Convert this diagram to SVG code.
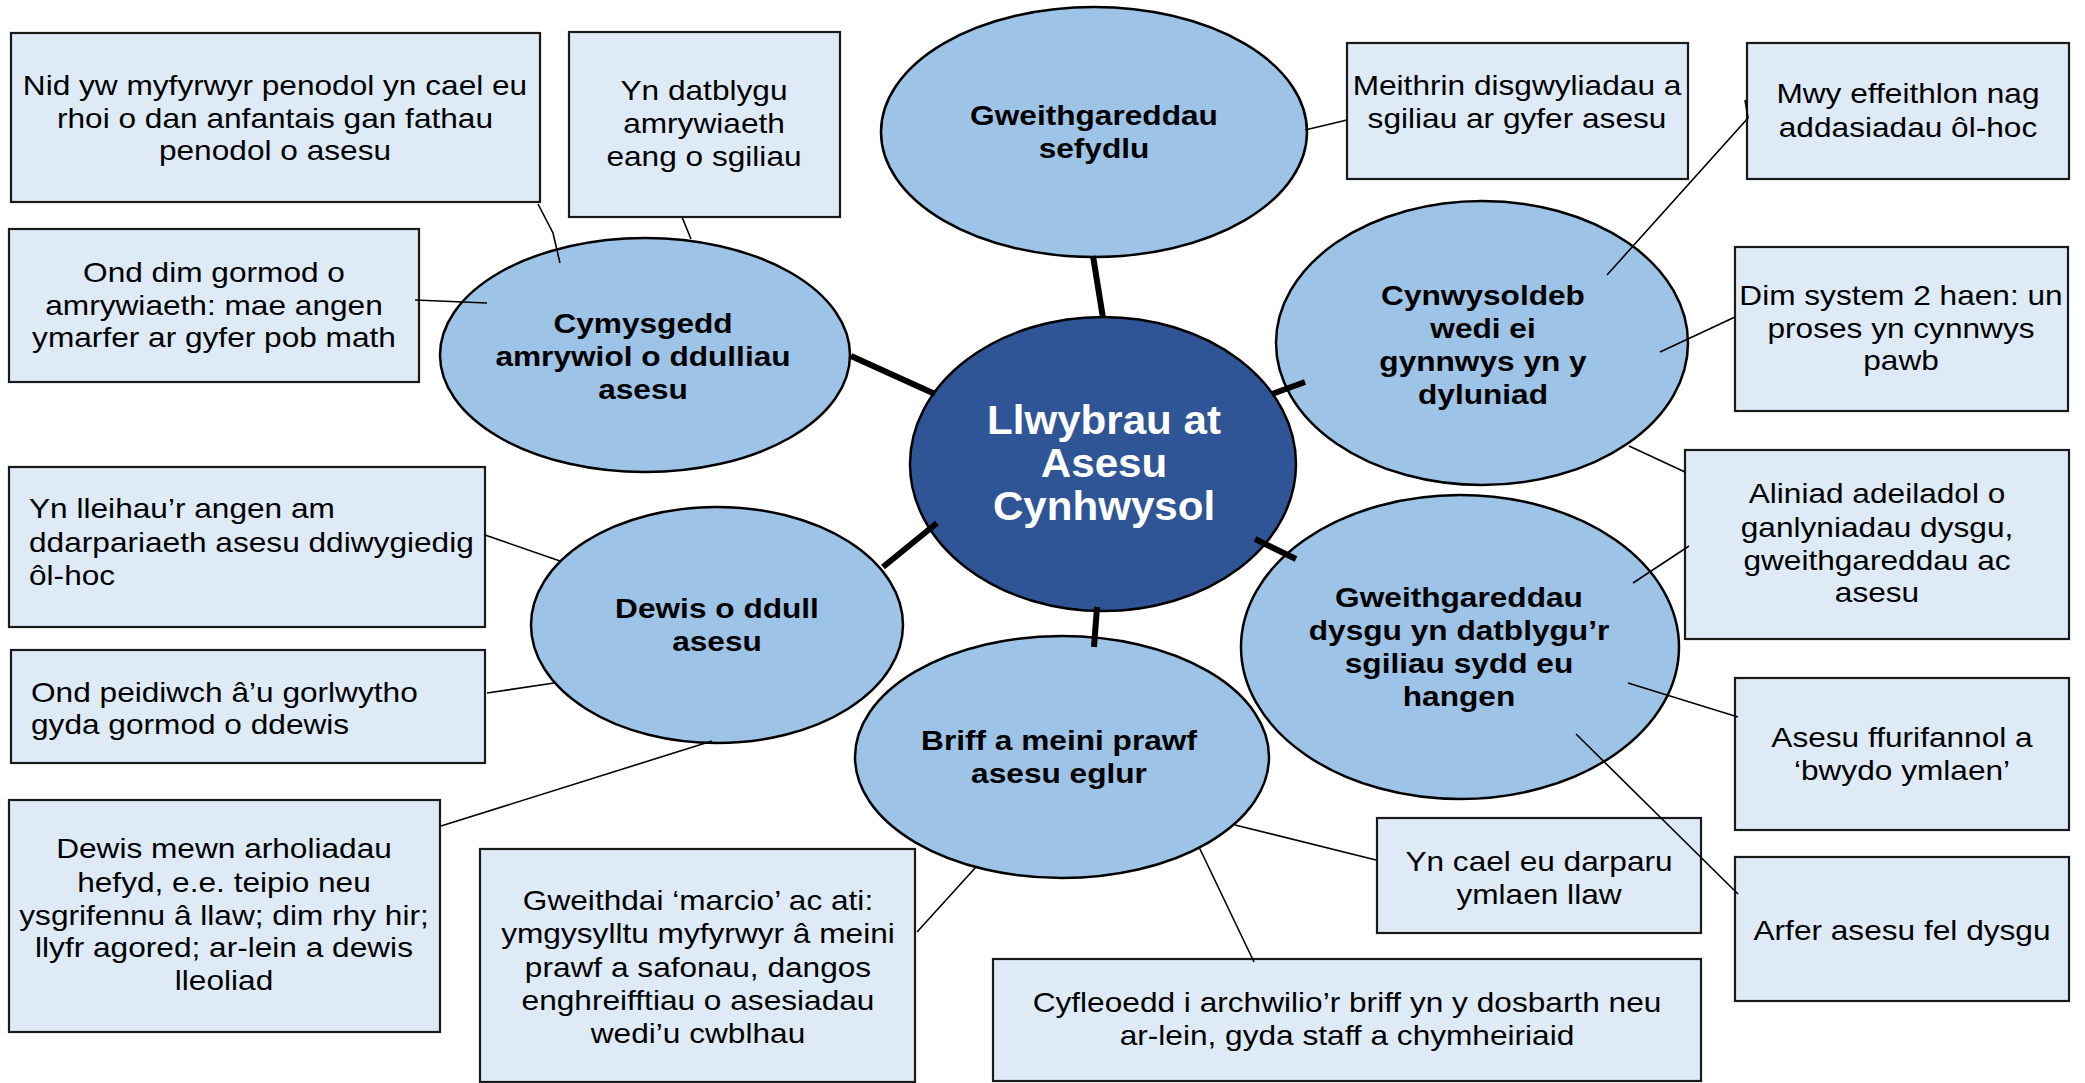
<svg xmlns="http://www.w3.org/2000/svg" width="2085" height="1083" viewBox="0 0 2085 1083">
<style>
.box{fill:#deebf7;stroke:#1a1a1a;stroke-width:2.2}
.ell{fill:#9dc3e6;stroke:#000;stroke-width:2.5}
.core{fill:#2f5597;stroke:#000;stroke-width:2.5}
.thick{stroke:#000;stroke-width:6;fill:none}
.thin{stroke:#000;stroke-width:1.6;fill:none}
.t{font-family:"Liberation Sans",Arial,sans-serif;font-size:28px;fill:#000;text-anchor:middle}
.tl{font-family:"Liberation Sans",Arial,sans-serif;font-size:28px;fill:#000;text-anchor:start}
.b{font-family:"Liberation Sans",Arial,sans-serif;font-size:28px;font-weight:bold;fill:#000;text-anchor:middle}
.c{font-family:"Liberation Sans",Arial,sans-serif;font-size:40.5px;font-weight:bold;fill:#fff;text-anchor:middle}
</style>
<rect width="2085" height="1083" fill="#fff"/>
<g id="n-cymysgedd">
<ellipse class="ell" cx="645" cy="355" rx="205" ry="117"/>
<text class="b" transform="translate(643 0) scale(1.13 1)"><tspan x="0" y="333">Cymysgedd</tspan><tspan x="0" y="366">amrywiol o ddulliau</tspan><tspan x="0" y="399">asesu</tspan></text>
</g>
<g id="n-sefydlu">
<ellipse class="ell" cx="1094" cy="132" rx="213" ry="125"/>
<text class="b" transform="translate(1094 0) scale(1.13 1)"><tspan x="0" y="125">Gweithgareddau</tspan><tspan x="0" y="158">sefydlu</tspan></text>
</g>
<g id="n-cynwysoldeb">
<ellipse class="ell" cx="1482" cy="343" rx="206" ry="142"/>
<text class="b" transform="translate(1483 0) scale(1.13 1)"><tspan x="0" y="305">Cynwysoldeb</tspan><tspan x="0" y="338">wedi ei</tspan><tspan x="0" y="371">gynnwys yn y</tspan><tspan x="0" y="404">dyluniad</tspan></text>
</g>
<g id="n-dewis">
<ellipse class="ell" cx="717" cy="625" rx="186" ry="118"/>
<text class="b" transform="translate(717 0) scale(1.13 1)"><tspan x="0" y="618">Dewis o ddull</tspan><tspan x="0" y="651">asesu</tspan></text>
</g>
<g id="n-briff">
<ellipse class="ell" cx="1062" cy="757" rx="207" ry="121"/>
<text class="b" transform="translate(1059 0) scale(1.13 1)"><tspan x="0" y="750">Briff a meini prawf</tspan><tspan x="0" y="783">asesu eglur</tspan></text>
</g>
<g id="n-dysgu">
<ellipse class="ell" cx="1460" cy="647" rx="219" ry="152"/>
<text class="b" transform="translate(1459 0) scale(1.13 1)"><tspan x="0" y="607">Gweithgareddau</tspan><tspan x="0" y="640">dysgu yn datblygu’r</tspan><tspan x="0" y="673">sgiliau sydd eu</tspan><tspan x="0" y="706">hangen</tspan></text>
</g>
<g id="n-centre">
<ellipse class="core" cx="1103" cy="464" rx="193" ry="147"/>
<text class="c" transform="translate(1104 0) scale(1.04 1)"><tspan x="0" y="434">Llwybrau at</tspan><tspan x="0" y="477">Asesu</tspan><tspan x="0" y="520">Cynhwysol</tspan></text>
</g>
<g id="b-nid">
<rect class="box" x="11" y="33" width="529" height="169"/>
<text class="t" transform="translate(275 0) scale(1.13 1)"><tspan x="0" y="95">Nid yw myfyrwyr penodol yn cael eu</tspan><tspan x="0" y="128">rhoi o dan anfantais gan fathau</tspan><tspan x="0" y="160">penodol o asesu</tspan></text>
</g>
<g id="b-datblygu">
<rect class="box" x="569" y="32" width="271" height="185"/>
<text class="t" transform="translate(704 0) scale(1.13 1)"><tspan x="0" y="100">Yn datblygu</tspan><tspan x="0" y="133">amrywiaeth</tspan><tspan x="0" y="166">eang o sgiliau</tspan></text>
</g>
<g id="b-ond-dim">
<rect class="box" x="9" y="229" width="410" height="153"/>
<text class="t" transform="translate(214 0) scale(1.13 1)"><tspan x="0" y="282">Ond dim gormod o</tspan><tspan x="0" y="315">amrywiaeth: mae angen</tspan><tspan x="0" y="347">ymarfer ar gyfer pob math</tspan></text>
</g>
<g id="b-meithrin">
<rect class="box" x="1347" y="43" width="341" height="136"/>
<text class="t" transform="translate(1517 0) scale(1.13 1)"><tspan x="0" y="95">Meithrin disgwyliadau a</tspan><tspan x="0" y="128">sgiliau ar gyfer asesu</tspan></text>
</g>
<g id="b-mwy">
<rect class="box" x="1747" y="43" width="322" height="136"/>
<text class="t" transform="translate(1908 0) scale(1.13 1)"><tspan x="0" y="103">Mwy effeithlon nag</tspan><tspan x="0" y="137">addasiadau ôl-hoc</tspan></text>
</g>
<g id="b-dim-system">
<rect class="box" x="1735" y="247" width="333" height="164"/>
<text class="t" transform="translate(1901 0) scale(1.13 1)"><tspan x="0" y="305">Dim system 2 haen: un</tspan><tspan x="0" y="338">proses yn cynnwys</tspan><tspan x="0" y="370">pawb</tspan></text>
</g>
<g id="b-aliniad">
<rect class="box" x="1685" y="450" width="384" height="189"/>
<text class="t" transform="translate(1877 0) scale(1.13 1)"><tspan x="0" y="503">Aliniad adeiladol o</tspan><tspan x="0" y="537">ganlyniadau dysgu,</tspan><tspan x="0" y="570">gweithgareddau ac</tspan><tspan x="0" y="602">asesu</tspan></text>
</g>
<g id="b-ffurifannol">
<rect class="box" x="1735" y="678" width="334" height="152"/>
<text class="t" transform="translate(1902 0) scale(1.13 1)"><tspan x="0" y="747">Asesu ffurifannol a</tspan><tspan x="0" y="780">‘bwydo ymlaen’</tspan></text>
</g>
<g id="b-arfer">
<rect class="box" x="1735" y="857" width="334" height="144"/>
<text class="t" transform="translate(1902 0) scale(1.13 1)"><tspan x="0" y="940">Arfer asesu fel dysgu</tspan></text>
</g>
<g id="b-darparu">
<rect class="box" x="1377" y="818" width="324" height="115"/>
<text class="t" transform="translate(1539 0) scale(1.13 1)"><tspan x="0" y="871">Yn cael eu darparu</tspan><tspan x="0" y="904">ymlaen llaw</tspan></text>
</g>
<g id="b-cyfleoedd">
<rect class="box" x="993" y="959" width="708" height="122"/>
<text class="t" transform="translate(1347 0) scale(1.13 1)"><tspan x="0" y="1012">Cyfleoedd i archwilio’r briff yn y dosbarth neu</tspan><tspan x="0" y="1045">ar-lein, gyda staff a chymheiriaid</tspan></text>
</g>
<g id="b-gweithdai">
<rect class="box" x="480" y="849" width="435" height="233"/>
<text class="t" transform="translate(698 0) scale(1.13 1)"><tspan x="0" y="910">Gweithdai ‘marcio’ ac ati:</tspan><tspan x="0" y="943">ymgysylltu myfyrwyr â meini</tspan><tspan x="0" y="977">prawf a safonau, dangos</tspan><tspan x="0" y="1010">enghreifftiau o asesiadau</tspan><tspan x="0" y="1043">wedi’u cwblhau</tspan></text>
</g>
<g id="b-arholiadau">
<rect class="box" x="9" y="800" width="431" height="232"/>
<text class="t" transform="translate(224 0) scale(1.13 1)"><tspan x="0" y="858">Dewis mewn arholiadau</tspan><tspan x="0" y="892">hefyd, e.e. teipio neu</tspan><tspan x="0" y="925">ysgrifennu â llaw; dim rhy hir;</tspan><tspan x="0" y="957">llyfr agored; ar-lein a dewis</tspan><tspan x="0" y="990">lleoliad</tspan></text>
</g>
<g id="b-lleihau">
<rect class="box" x="9" y="467" width="476" height="160"/>
<text class="tl" transform="translate(29 0) scale(1.13 1)"><tspan x="0" y="518">Yn lleihau’r angen am</tspan><tspan x="0" y="552">ddarpariaeth asesu ddiwygiedig</tspan><tspan x="0" y="585">ôl-hoc</tspan></text>
</g>
<g id="b-peidiwch">
<rect class="box" x="11" y="650" width="474" height="113"/>
<text class="tl" transform="translate(31 0) scale(1.13 1)"><tspan x="0" y="702">Ond peidiwch â’u gorlwytho</tspan><tspan x="0" y="734">gyda gormod o ddewis</tspan></text>
</g>
<g id="connectors">
<line class="thick" x1="1093" y1="256" x2="1103" y2="318"/>
<line class="thick" x1="851" y1="356" x2="935" y2="394"/>
<line class="thick" x1="1272" y1="394" x2="1305" y2="382"/>
<line class="thick" x1="883" y1="567" x2="937" y2="523"/>
<line class="thick" x1="1097" y1="607" x2="1094" y2="647"/>
<line class="thick" x1="1255" y1="539" x2="1296" y2="559"/>
<polyline class="thin" points="538,204 553,233 560,263"/>
<line class="thin" x1="682" y1="217" x2="691" y2="239"/>
<line class="thin" x1="415" y1="300" x2="487" y2="303"/>
<line class="thin" x1="1305" y1="130" x2="1347" y2="120"/>
<polyline class="thin" points="1745,100 1748,118 1607,275"/>
<line class="thin" x1="1735" y1="317" x2="1660" y2="352"/>
<line class="thin" x1="1629" y1="446" x2="1685" y2="472"/>
<line class="thin" x1="1689" y1="546" x2="1633" y2="583"/>
<line class="thin" x1="1738" y1="717" x2="1628" y2="683"/>
<line class="thin" x1="1576" y1="734" x2="1738" y2="894"/>
<line class="thin" x1="1235" y1="825" x2="1376" y2="860"/>
<line class="thin" x1="1199" y1="847" x2="1254" y2="962"/>
<line class="thin" x1="917" y1="932" x2="976" y2="867"/>
<line class="thin" x1="441" y1="826" x2="712" y2="741"/>
<line class="thin" x1="485" y1="535" x2="560" y2="561"/>
<line class="thin" x1="487" y1="693" x2="554" y2="683"/>
</g>
</svg>
